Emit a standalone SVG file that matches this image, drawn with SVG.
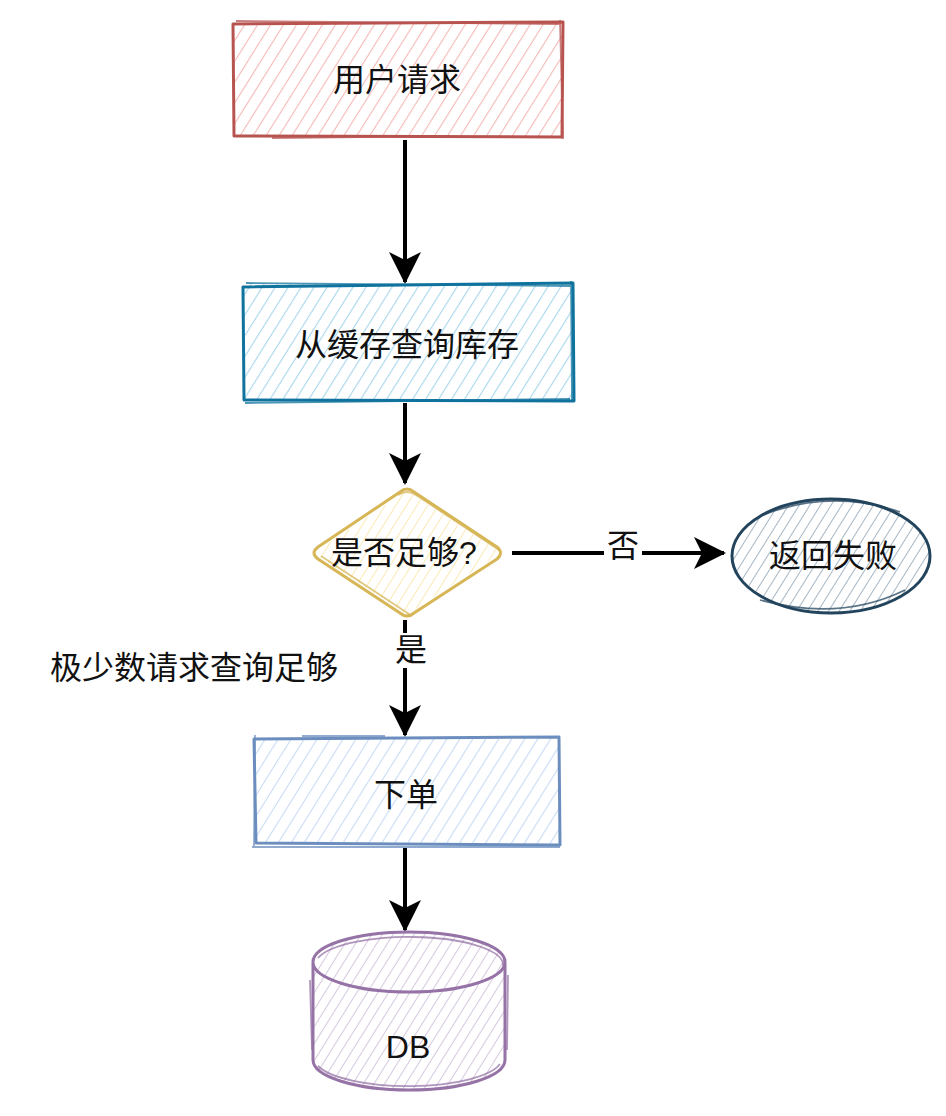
<svg xmlns="http://www.w3.org/2000/svg" width="946" height="1116" viewBox="0 0 946 1116">
<style>
.t{font-family:"Liberation Sans","Noto Sans CJK SC",sans-serif;font-size:32px;fill:#111;text-anchor:middle;dominant-baseline:central}
.c{stroke:#000;stroke-width:4;fill:none}
.s{fill:none;stroke-width:3;stroke-linejoin:round}
.s2{fill:none;stroke-width:1.8;opacity:.75}
</style>
<defs>
<pattern id="hr" width="11" height="11" patternUnits="userSpaceOnUse" patternTransform="rotate(32)"><line x1="0" y1="0" x2="0" y2="11" stroke="#f4b9b7" stroke-width="2.2"/></pattern>
<pattern id="hb" width="11" height="11" patternUnits="userSpaceOnUse" patternTransform="rotate(32)"><line x1="0" y1="0" x2="0" y2="11" stroke="#a9d6ec" stroke-width="2.2"/></pattern>
<pattern id="hy" width="9" height="9" patternUnits="userSpaceOnUse" patternTransform="rotate(32)"><line x1="0" y1="0" x2="0" y2="9" stroke="#fbe9b5" stroke-width="2"/></pattern>
<pattern id="hg" width="9" height="9" patternUnits="userSpaceOnUse" patternTransform="rotate(32)"><line x1="0" y1="0" x2="0" y2="9" stroke="#a7b6c3" stroke-width="2"/></pattern>
<pattern id="hl" width="11" height="11" patternUnits="userSpaceOnUse" patternTransform="rotate(32)"><line x1="0" y1="0" x2="0" y2="11" stroke="#c9dbf5" stroke-width="2.2"/></pattern>
<pattern id="hp" width="9" height="9" patternUnits="userSpaceOnUse" patternTransform="rotate(32)"><line x1="0" y1="0" x2="0" y2="9" stroke="#d6c8de" stroke-width="2"/></pattern>
<marker id="ah" markerWidth="8" markerHeight="8" refX="7.5" refY="4" orient="auto" markerUnits="strokeWidth"><path d="M0,0 L8,4 L0,8 L2,4 Z" fill="#000"/></marker>
</defs>

<g id="connectors">
<path class="c" d="M405,140 L405,282" marker-end="url(#ah)"/>
<path class="c" d="M405,403 L405,483" marker-end="url(#ah)"/>
<path class="c" d="M512,553 L604,553 M642,553 L724,553" marker-end="url(#ah)"/>
<text class="t" x="623" y="546" font-size="29">否</text>
<path class="c" d="M405,620 L405,633 M405,668 L405,735" marker-end="url(#ah)"/>
<text class="t" x="411" y="650" font-size="29">是</text>
<path class="c" d="M405,848 L405,930" marker-end="url(#ah)"/>
</g>

<g id="n1">
<rect x="234" y="23" width="328" height="113" fill="url(#hr)"/>
<path class="s" stroke="#b85450" d="M233,24 L563,22 L562,137 L234,136 Z"/>
<path class="s2" stroke="#b85450" d="M236,21 L560,24 M560,20 L563,139 M272,138 L450,136"/>
<text class="t" x="397" y="80">用户请求</text>
</g>

<g id="n2">
<rect x="244" y="284" width="330" height="116" fill="url(#hb)"/>
<path class="s" stroke="#10739e" d="M243,287 L573,283 L574,401 L244,400 Z"/>
<path class="s2" stroke="#10739e" d="M246,283 L571,286 M571,281 L572,402 M245,403 L570,399"/>
<text class="t" x="407" y="345">从缓存查询库存</text>
</g>

<g id="n3">
<path d="M407,491 L501,553 L407,615 L313,553 Z" fill="url(#hy)"/>
<path class="s" stroke="#d6b656" d="M400,492 Q407,486 414,492 L497,547 Q504,553 497,559 L414,613 Q407,619 400,613 L318,559 Q310,553 318,547 Z"/>
<path class="s2" stroke="#d6b656" d="M398,495 Q407,489 416,495 L499,550 M412,616 L321,556"/>
<text class="t" x="404" y="553">是否足够?</text>
</g>

<g id="n4">
<ellipse cx="831" cy="556" rx="99" ry="57" fill="url(#hg)"/>
<ellipse class="s" stroke="#23445d" cx="831" cy="556" rx="99" ry="57"/>
<path class="s2" stroke="#23445d" d="M760,516 Q830,488 900,512 M905,590 Q840,622 760,600"/>
<text class="t" x="833" y="556">返回失败</text>
</g>

<g id="n5">
<text class="t" x="194" y="668">极少数请求查询足够</text>
</g>

<g id="n6">
<rect x="254" y="738" width="305" height="106" fill="url(#hl)"/>
<path class="s" stroke="#6c8ebf" d="M254,739 L559,737 L560,845 L256,843 Z"/>
<path class="s2" stroke="#6c8ebf" d="M255,735 L254,846 M302,736 L385,736 M252,847 L560,847"/>
<text class="t" x="406" y="795">下单</text>
</g>

<g id="n7">
<path d="M313,962 A96,30 0 0 1 505,962 L505,1060 A96,30 0 0 1 313,1060 Z" fill="url(#hp)"/>
<path class="s" stroke="#9673a6" d="M313,962 A96,30 0 0 1 505,962 L505,1060 A96,30 0 0 1 313,1060 Z M313,962 A96,30 0 0 0 505,962"/>
<path class="s2" stroke="#9673a6" d="M318,958 A94,28 0 0 1 503,966 M310,980 L312,1050 M508,975 L507,1050 M318,1066 A94,28 0 0 0 500,1064"/>
<text class="t" x="408" y="1047">DB</text>
</g>
</svg>
